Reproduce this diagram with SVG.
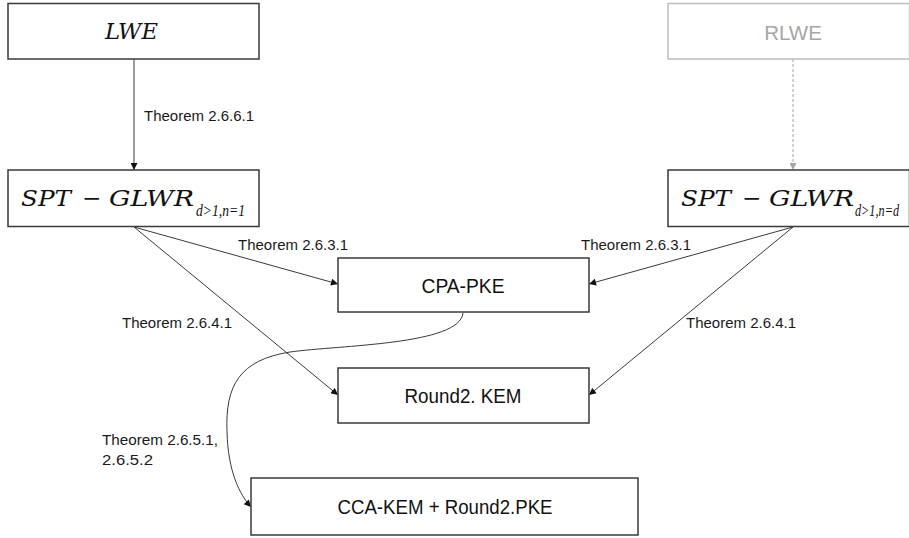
<svg xmlns="http://www.w3.org/2000/svg" width="909" height="538" viewBox="0 0 909 538">
  <style>
    .box { fill: #ffffff; stroke: #3a3a3a; stroke-width: 1.5; }
    .box-faint { fill: #ffffff; stroke: #bdbdbd; stroke-width: 1.5; }
    .edge { fill: none; stroke: #3a3a3a; stroke-width: 1; }
    .edge-faint { fill: none; stroke: #a6a6a6; stroke-width: 1; stroke-dasharray: 3 2; }
    .math { font-family: "DejaVu Serif", "Liberation Serif", serif; font-style: italic; fill: #111; font-size: 23px; }
    .op { font-family: "DejaVu Serif", "Liberation Serif", serif; fill: #111; font-size: 23px; }
    .sub { font-family: "Liberation Serif", "DejaVu Serif", serif; font-style: italic; fill: #111; font-size: 16.5px; }
    .label { font-family: "Liberation Sans", Arial, sans-serif; font-size: 15px; fill: #1a1a1a; }
    .name { font-family: "Liberation Sans", Arial, sans-serif; font-size: 20.5px; fill: #111; text-anchor: middle; }
  </style>
  <defs>
    <marker id="arrow" viewBox="0 0 10 10" refX="10" refY="5" markerWidth="9" markerHeight="7" markerUnits="userSpaceOnUse" orient="auto">
      <path d="M0,0 L10,5 L0,10 z" fill="#111"/>
    </marker>
    <marker id="arrow-faint" viewBox="0 0 10 10" refX="10" refY="5" markerWidth="9" markerHeight="7" markerUnits="userSpaceOnUse" orient="auto">
      <path d="M0,0 L10,5 L0,10 z" fill="#a6a6a6"/>
    </marker>
  </defs>

  <g id="connectors">
    <line class="edge" x1="134" y1="59" x2="134" y2="170" marker-end="url(#arrow)"/>
    <line class="edge-faint" x1="793" y1="59" x2="793" y2="170" marker-end="url(#arrow-faint)"/>
    <line class="edge" x1="134" y1="227" x2="338" y2="284" marker-end="url(#arrow)"/>
    <line class="edge" x1="134" y1="227" x2="338" y2="395" marker-end="url(#arrow)"/>
    <line class="edge" x1="793" y1="227" x2="589" y2="284" marker-end="url(#arrow)"/>
    <line class="edge" x1="793" y1="227" x2="589" y2="395" marker-end="url(#arrow)"/>
    <path class="edge" d="M463,313 C460,345 340,345 290,352 C240,360 225,385 227,432 C228,472 240,495 251,507" marker-end="url(#arrow)"/>
    <text class="label" x="144" y="121" textLength="110" lengthAdjust="spacingAndGlyphs">Theorem 2.6.6.1</text>
    <text class="label" x="238" y="250" textLength="110" lengthAdjust="spacingAndGlyphs">Theorem 2.6.3.1</text>
    <text class="label" x="581" y="250" textLength="110" lengthAdjust="spacingAndGlyphs">Theorem 2.6.3.1</text>
    <text class="label" x="122" y="328" textLength="110" lengthAdjust="spacingAndGlyphs">Theorem 2.6.4.1</text>
    <text class="label" x="686" y="328" textLength="110" lengthAdjust="spacingAndGlyphs">Theorem 2.6.4.1</text>
    <text class="label" x="102" y="445" textLength="116" lengthAdjust="spacingAndGlyphs">Theorem 2.6.5.1,</text>
    <text class="label" x="102" y="465" textLength="51" lengthAdjust="spacingAndGlyphs">2.6.5.2</text>
  </g>

  <g id="lwe">
    <rect class="box" x="8" y="3.5" width="251" height="55.5"/>
    <text class="math" x="105" y="39" font-size="21" textLength="53" lengthAdjust="spacingAndGlyphs">LWE</text>
  </g>

  <g id="rlwe">
    <rect class="box-faint" x="668" y="3.5" width="241.5" height="55.5"/>
    <text class="name" x="793" y="40" font-size="19.5" style="fill:#a6a6a6">RLWE</text>
  </g>

  <g id="spt-glwr-n1">
    <rect class="box" x="8" y="170" width="251" height="56.5"/>
    <text class="math" x="21" y="206" textLength="50" lengthAdjust="spacingAndGlyphs">SPT</text>
    <text class="op" x="82" y="206">−</text>
    <text class="math" x="109" y="206" textLength="85" lengthAdjust="spacingAndGlyphs">GLWR</text>
    <text class="sub" x="196" y="216" textLength="49" lengthAdjust="spacingAndGlyphs">d&gt;1,n=1</text>
  </g>

  <g id="spt-glwr-nd">
    <rect class="box" x="668" y="170" width="241.5" height="56.5"/>
    <text class="math" x="681" y="206" textLength="50" lengthAdjust="spacingAndGlyphs">SPT</text>
    <text class="op" x="742" y="206">−</text>
    <text class="math" x="769" y="206" textLength="85" lengthAdjust="spacingAndGlyphs">GLWR</text>
    <text class="sub" x="855" y="216" textLength="44" lengthAdjust="spacingAndGlyphs">d&gt;1,n=d</text>
  </g>

  <g id="cpa-pke">
    <rect class="box" x="338" y="258" width="251" height="54"/>
    <text class="name" x="463" y="293" textLength="83" lengthAdjust="spacingAndGlyphs">CPA-PKE</text>
  </g>

  <g id="round2-kem">
    <rect class="box" x="338" y="368" width="251" height="55"/>
    <text class="name" x="463" y="403" textLength="117" lengthAdjust="spacingAndGlyphs">Round2. KEM</text>
  </g>

  <g id="cca-kem">
    <rect class="box" x="251" y="478" width="387" height="57"/>
    <text class="name" x="445" y="514" textLength="215" lengthAdjust="spacingAndGlyphs">CCA-KEM + Round2.PKE</text>
  </g>
</svg>
